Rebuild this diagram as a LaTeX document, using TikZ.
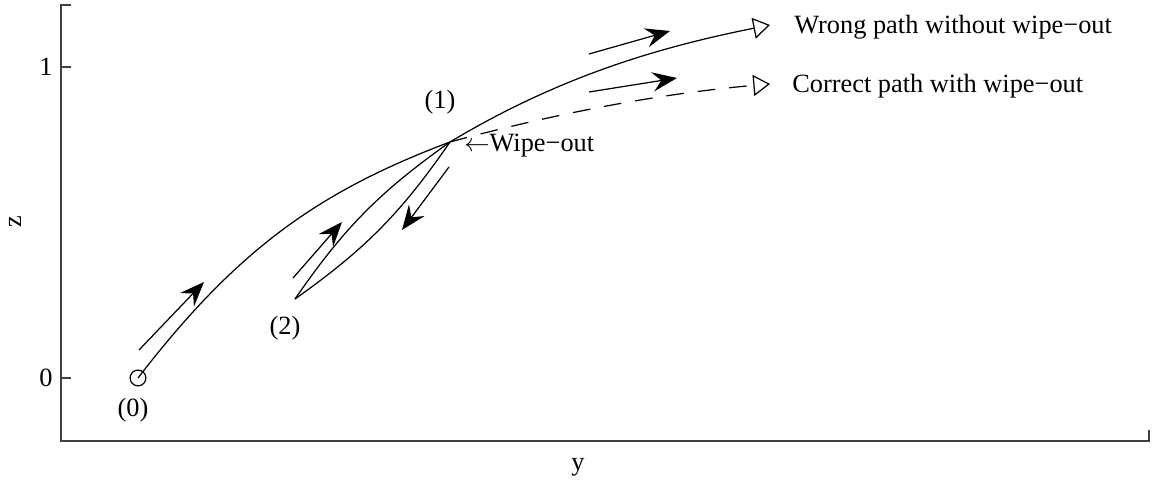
\documentclass[tikz,border=0pt]{standalone}
\usepackage{fontspec}
\setmainfont{Liberation Serif}
\usetikzlibrary{arrows.meta}
\begin{document}
\begin{tikzpicture}[x=0.02cm,y=-0.02cm,
  font=\fontsize{15}{18}\selectfont,
  axisline/.style={line width=0.9pt, black!75},
  curve/.style={line width=0.7pt},
  dirarrow/.style={line width=0.7pt, -{Stealth[length=14pt,width=11pt,inset=5pt]}},
  opentip/.style={-{Triangle[open,length=9.5pt,width=12pt,line width=0.7pt]}},
  dashcurve/.style={curve, dash pattern=on 10pt off 8pt},
  lbl/.style={inner sep=0pt}]
\useasboundingbox (0,0) rectangle (1159,492);
% axes
\coordinate (ytop) at (61,5);
\coordinate (ytopt) at (71,5);
\coordinate (origin) at (61,441);
\coordinate (xend) at (1149,441);
\coordinate (xendt) at (1149,430);
\coordinate (t1a) at (61,67);
\coordinate (t1b) at (71,67);
\coordinate (t0a) at (61,378);
\coordinate (t0b) at (71,378);
\draw[axisline] (ytopt) -- (ytop) -- (origin) -- (xend) -- (xendt);
\draw[axisline] (t1a) -- (t1b);
\draw[axisline] (t0a) -- (t0b);
\node[lbl, anchor=east] (tick1) at (53,67) {1};
\node[lbl, anchor=east] (tick0) at (53,378) {0};
\node[lbl, rotate=90] (zlab) at (15,222) {z};
\node[lbl] (ylab) at (578,467) {y};
% points
\coordinate (p0) at (138,378);
\coordinate (p1) at (450,142);
\coordinate (p2) at (295,299);
\coordinate (wend) at (770,25);
\coordinate (cend) at (770,84);
\node[circle, draw, line width=0.7pt, minimum size=9pt, inner sep=0pt] (c0) at (p0) {};
% paths
\draw[curve] (p0) .. controls (238,248) and (320,191) .. (p1);
\draw[curve, opentip] (p1) .. controls (560,76) and (660,47) .. (wend);
\draw[dashcurve, opentip] (p1) .. controls (550,115) and (655,94) .. (cend);
\draw[curve] (p2) to[bend left=10] (p1);
\draw[curve] (p2) to[bend right=10] (p1);
% direction arrows
\coordinate (a1s) at (139,350); \coordinate (a1e) at (204,282);
\coordinate (a2s) at (293,278); \coordinate (a2e) at (342,222);
\coordinate (a3s) at (449,167); \coordinate (a3e) at (402,230);
\coordinate (a4s) at (589,54);  \coordinate (a4e) at (670,31);
\coordinate (a5s) at (589,92);  \coordinate (a5e) at (677,78);
\draw[dirarrow] (a1s) -- (a1e);
\draw[dirarrow] (a2s) -- (a2e);
\draw[dirarrow] (a3s) -- (a3e);
\draw[dirarrow] (a4s) -- (a4e);
\draw[dirarrow] (a5s) -- (a5e);
% labels
\node[lbl] (l0) at (133,410) {(0)};
\node[lbl] (l2) at (285,328) {(2)};
\node[lbl] (l1) at (440,102) {(1)};
\node[lbl, anchor=west] (lw) at (464,146) {$\leftarrow$Wipe−out};
\node[lbl, anchor=west] (lwrong) at (794,27) {Wrong path without wipe−out};
\node[lbl, anchor=west] (lcorr) at (792,86) {Correct path with wipe−out};
\end{tikzpicture}
\end{document}
